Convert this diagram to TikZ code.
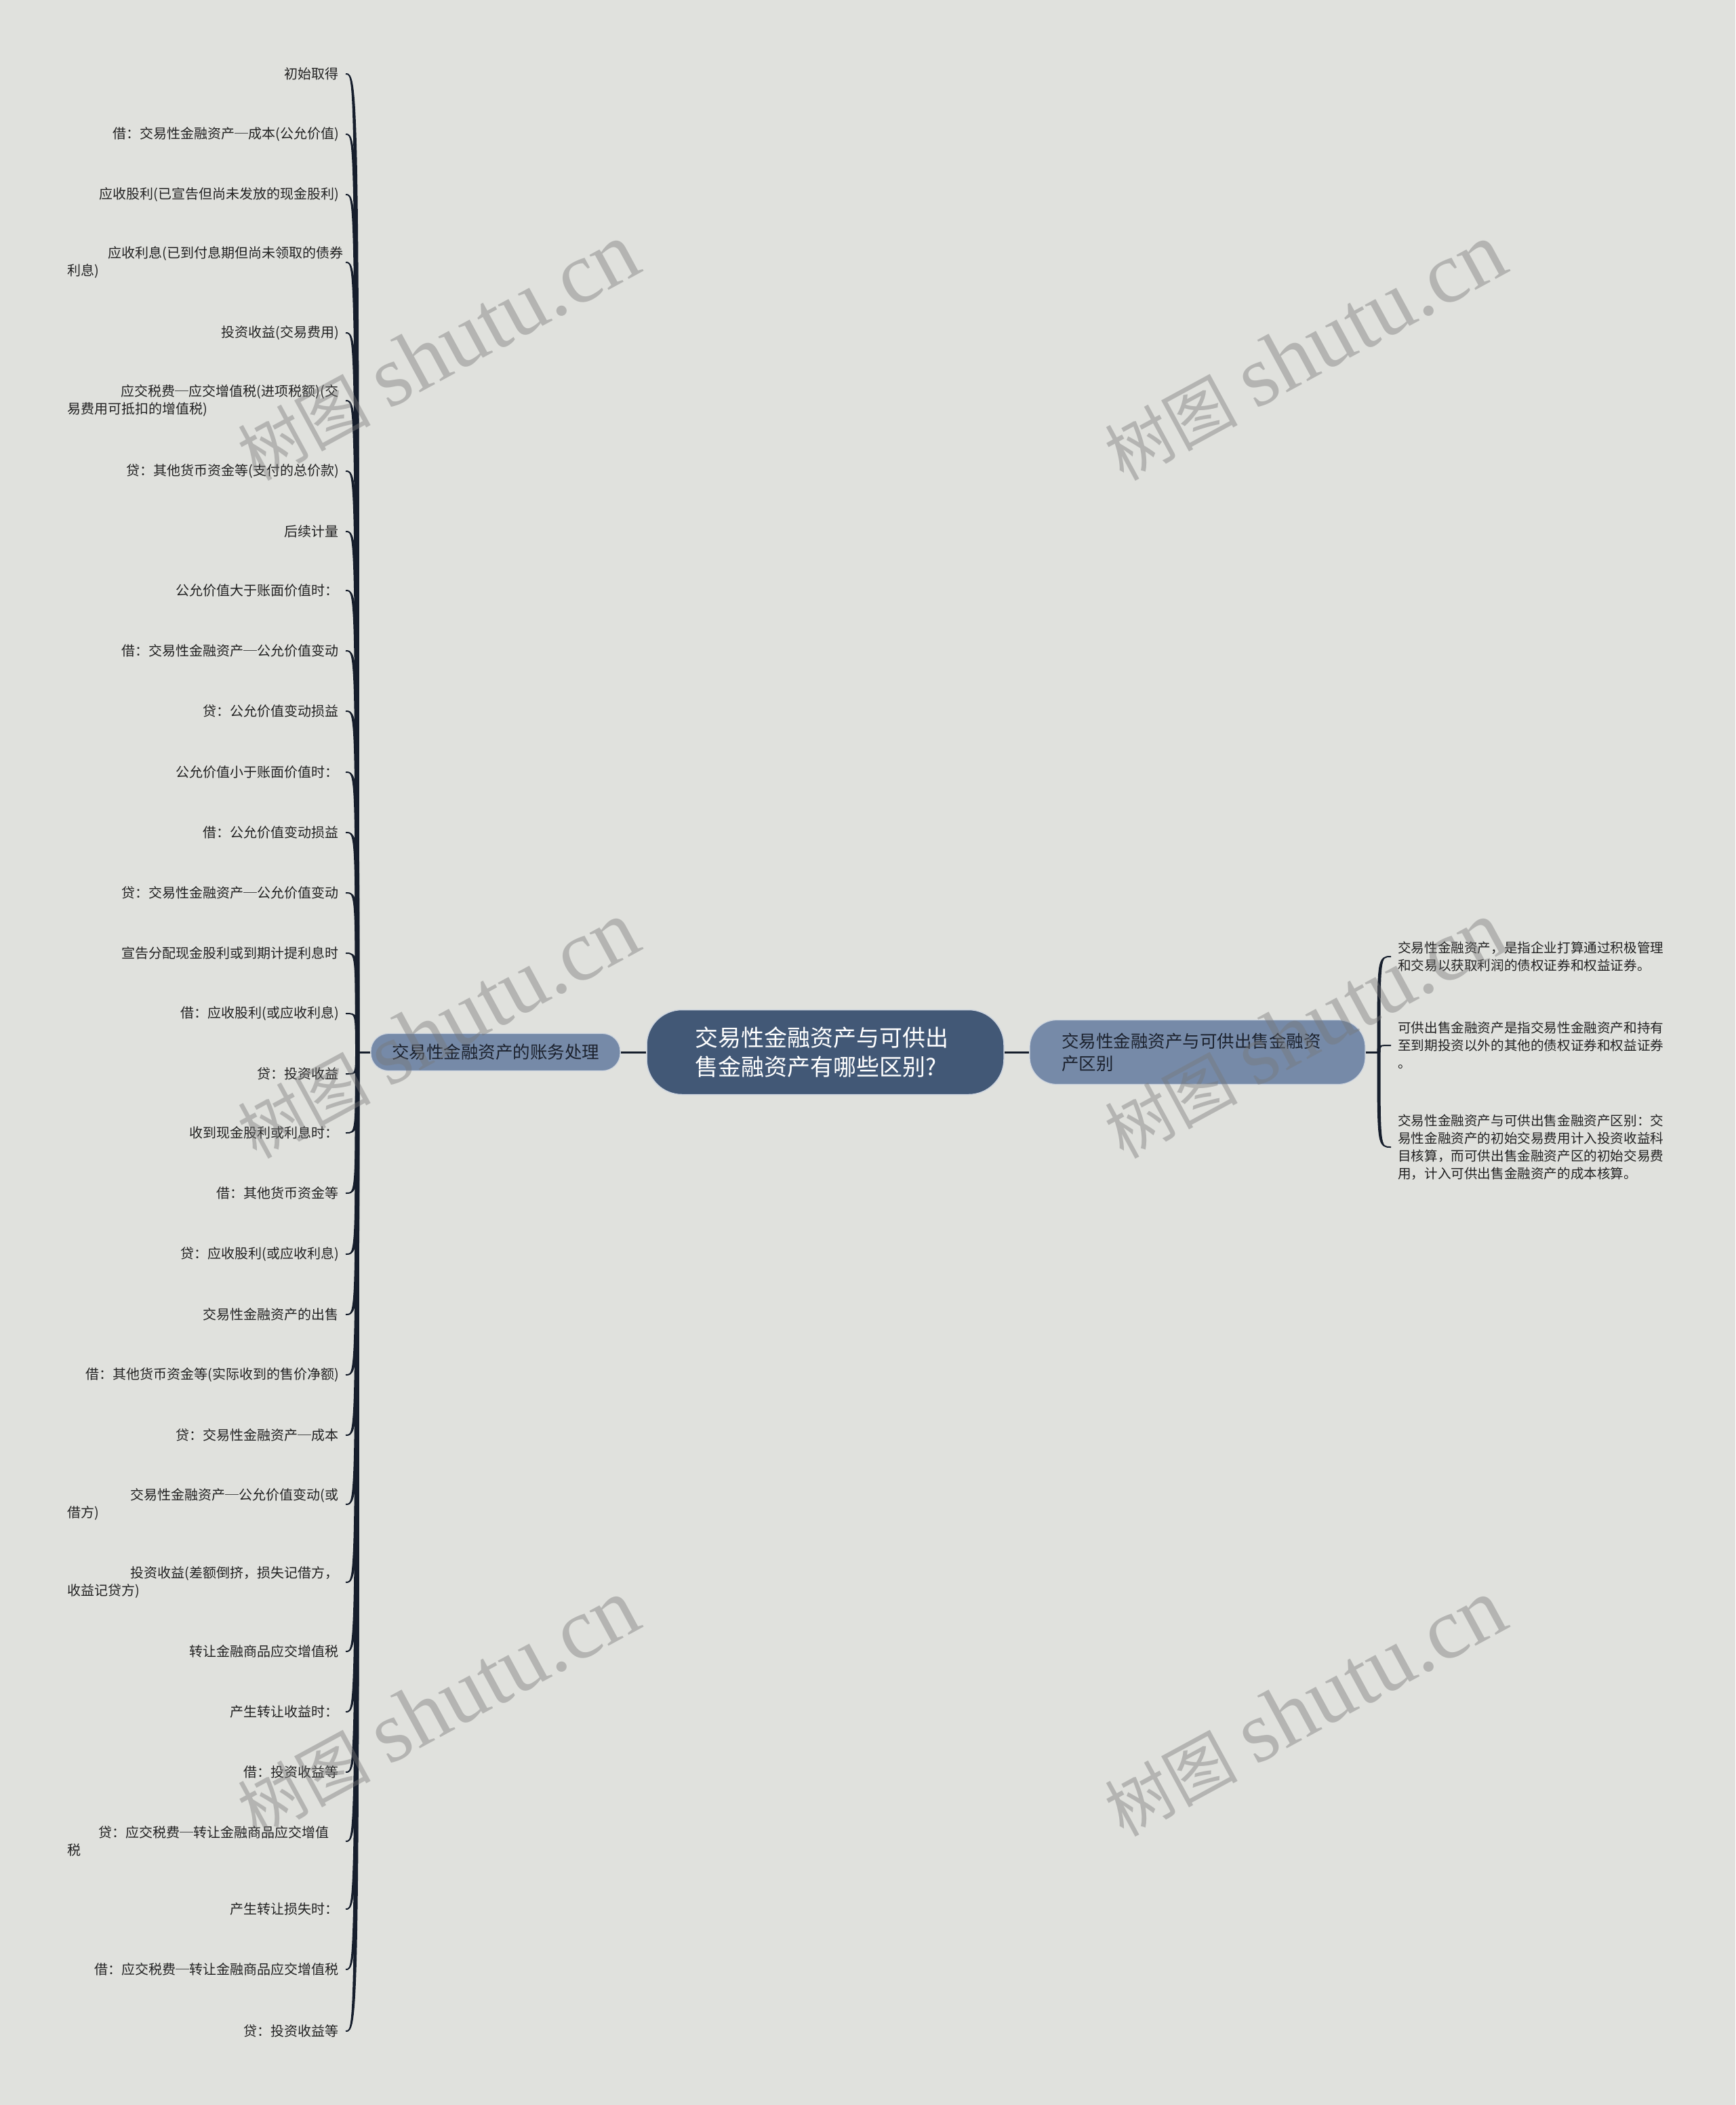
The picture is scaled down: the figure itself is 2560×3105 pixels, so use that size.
\documentclass[tikz,border=0pt]{standalone}
\usepackage{fontspec}
\setmainfont{Noto Sans CJK SC}
\newfontfamily\wmserif{Liberation Serif}
\usetikzlibrary{calc}
\definecolor{bgc}{RGB}{224,225,221}
\definecolor{cfill}{RGB}{66,88,118}
\definecolor{bfill}{RGB}{118,138,168}
\definecolor{bord}{RGB}{205,212,222}
\definecolor{linec}{RGB}{22,30,44}
\definecolor{txt}{RGB}{34,34,34}
\definecolor{btxt}{RGB}{28,34,46}
\definecolor{wmc}{RGB}{120,120,120}
\newcommand\wmtext{{\fontsize{98}{110}\selectfont 树图}\hspace{26pt}{\wmserif\fontsize{128}{140}\selectfont shutu.cn}}
\begin{document}
\begin{tikzpicture}[x=1pt,y=-1pt,
  conn/.style={draw=linec, line width=3pt},
  twig/.style={draw=linec, line width=2pt},
  centerbox/.style={rectangle, rounded corners=52pt, fill=cfill, draw=bord, line width=1.5pt,
    minimum width=527pt, minimum height=125pt, text width=384pt, inner xsep=0pt,
    align=left, text=white, font=\fontsize{34}{43}\selectfont},
  rbranch/.style={rectangle, rounded corners=40pt, fill=bfill, draw=bord, line width=1.2pt,
    minimum width=495pt, minimum height=95pt, text width=401pt, inner xsep=0pt,
    align=left, text=btxt, font=\fontsize{25.5}{33}\selectfont},
  lbranch/.style={rectangle, rounded corners=26pt, fill=bfill, draw=bord, line width=1.2pt,
    minimum width=368pt, minimum height=55pt, inner xsep=0pt,
    align=center, text=btxt, font=\fontsize{25.5}{33}\selectfont},
  lleaf/.style={anchor=east, text width=400pt, inner xsep=10pt, inner ysep=2pt, align=right,
    text=txt, font=\fontsize{20}{26}\selectfont},
  rleaf/.style={anchor=west, inner xsep=10pt, inner ysep=2pt, align=left,
    text=txt, font=\fontsize{19.6}{26}\selectfont},
  wm/.style={rotate=28.5, text=wmc, opacity=0.42, inner sep=0pt}
]
\useasboundingbox (0,0) rectangle (2560,3105);
\fill[bgc] (0,0) rectangle (2560,3105);

% main nodes
\node[centerbox] (c) at (1217.5,1552) {交易性金融资产与可供出\\售金融资产有哪些区别?};
\node[rbranch] (r) at (1766.5,1552) {交易性金融资产与可供出售金融资\\产区别};
\node[lbranch] (l) at (731,1552) {交易性金融资产的账务处理};

\draw[conn] (c.west) -- (l.east);
\draw[conn] (c.east) -- (r.west);

\coordinate (jl) at (527,1552);
\coordinate (jlA) at (524,1552);
\coordinate (jlB) at (530,1552);
\coordinate (jr) at (2034,1552);
\coordinate (jrA) at (2031.5,1552);
\coordinate (jrB) at (2036.5,1552);
\draw[conn] (l.west) -- (jl);
\draw[conn] (r.east) -- (jr);

% left leaves
\node[lleaf] (L1) at (510,109) {初始取得};
\node[lleaf] (L2) at (510,198) {借：交易性金融资产─成本(公允价值)};
\node[lleaf] (L3) at (510,287) {应收股利(已宣告但尚未发放的现金股利)};
\node[lleaf, align=left] (L4) at (510,387) {\hspace*{60pt}应收利息(已到付息期但尚未领取的债券\\利息)};
\node[lleaf] (L5) at (510,491) {投资收益(交易费用)};
\node[lleaf, align=left] (L6) at (510,591) {\hspace*{79pt}应交税费─应交增值税(进项税额)(交\\易费用可抵扣的增值税)};
\node[lleaf] (L7) at (510,695) {贷：其他货币资金等(支付的总价款)};
\node[lleaf] (L8) at (510,784) {后续计量};
\node[lleaf] (L9) at (510,871) {公允价值大于账面价值时：};
\node[lleaf] (L10) at (510,960) {借：交易性金融资产─公允价值变动};
\node[lleaf] (L11) at (510,1049) {贷：公允价值变动损益};
\node[lleaf] (L12) at (510,1139) {公允价值小于账面价值时：};
\node[lleaf] (L13) at (510,1228) {借：公允价值变动损益};
\node[lleaf] (L14) at (510,1317) {贷：交易性金融资产─公允价值变动};
\node[lleaf] (L15) at (510,1406) {宣告分配现金股利或到期计提利息时};
\node[lleaf] (L16) at (510,1495) {借：应收股利(或应收利息)};
\node[lleaf] (L17) at (510,1584) {贷：投资收益};
\node[lleaf] (L18) at (510,1671) {收到现金股利或利息时：};
\node[lleaf] (L19) at (510,1760) {借：其他货币资金等};
\node[lleaf] (L20) at (510,1850) {贷：应收股利(或应收利息)};
\node[lleaf] (L21) at (510,1939) {交易性金融资产的出售};
\node[lleaf] (L22) at (510,2028) {借：其他货币资金等(实际收到的售价净额)};
\node[lleaf] (L23) at (510,2117) {贷：交易性金融资产─成本};
\node[lleaf, align=left] (L24) at (510,2219) {\hspace*{93pt}交易性金融资产─公允价值变动(或\\借方)};
\node[lleaf, align=left] (L25) at (510,2334) {\hspace*{93pt}投资收益(差额倒挤，损失记借方，\\收益记贷方)};
\node[lleaf] (L26) at (510,2436) {转让金融商品应交增值税};
\node[lleaf] (L27) at (510,2525) {产生转让收益时：};
\node[lleaf] (L28) at (510,2614) {借：投资收益等};
\node[lleaf, align=left] (L29) at (510,2716) {\hspace*{46pt}贷：应交税费─转让金融商品应交增值\\税};
\node[lleaf] (L30) at (510,2816) {产生转让损失时：};
\node[lleaf] (L31) at (510,2905) {借：应交税费─转让金融商品应交增值税};
\node[lleaf] (L32) at (510,2996) {贷：投资收益等};

\foreach \n in {1,...,32}{
  \fill[linec] (jlA) .. controls (jlA |- L\n.east) and (jlA |- L\n.east) .. (L\n.east)
     .. controls (jlB |- L\n.east) and (jlB |- L\n.east) .. (jlB) -- cycle;
  \draw[twig] (jl) .. controls (jl |- L\n.east) and (jl |- L\n.east) .. (L\n.east);
}

% right leaves
\node[rleaf] (R1) at (2052,1411) {交易性金融资产，是指企业打算通过积极管理\\和交易以获取利润的债权证券和权益证券。};
\node[rleaf] (R2) at (2052,1542) {可供出售金融资产是指交易性金融资产和持有\\至到期投资以外的其他的债权证券和权益证券\\。};
\node[rleaf] (R3) at (2052,1692) {交易性金融资产与可供出售金融资产区别：交\\易性金融资产的初始交易费用计入投资收益科\\目核算，而可供出售金融资产区的初始交易费\\用，计入可供出售金融资产的成本核算。};

\foreach \n in {1,2,3}{
  \fill[linec] (jrA) .. controls (jrA |- R\n.west) and (jrA |- R\n.west) .. (R\n.west)
     .. controls (jrB |- R\n.west) and (jrB |- R\n.west) .. (jrB) -- cycle;
  \draw[twig] (jr) .. controls (jr |- R\n.west) and (jr |- R\n.west) .. (R\n.west);
}

% watermarks
\node[wm] (w1) at (646,519) {\wmtext};
\node[wm] (w2) at (1925,519) {\wmtext};
\node[wm] (w3) at (646,1519) {\wmtext};
\node[wm] (w4) at (1925,1519) {\wmtext};
\node[wm] (w5) at (646,2519) {\wmtext};
\node[wm] (w6) at (1925,2519) {\wmtext};
\end{tikzpicture}
\end{document}
